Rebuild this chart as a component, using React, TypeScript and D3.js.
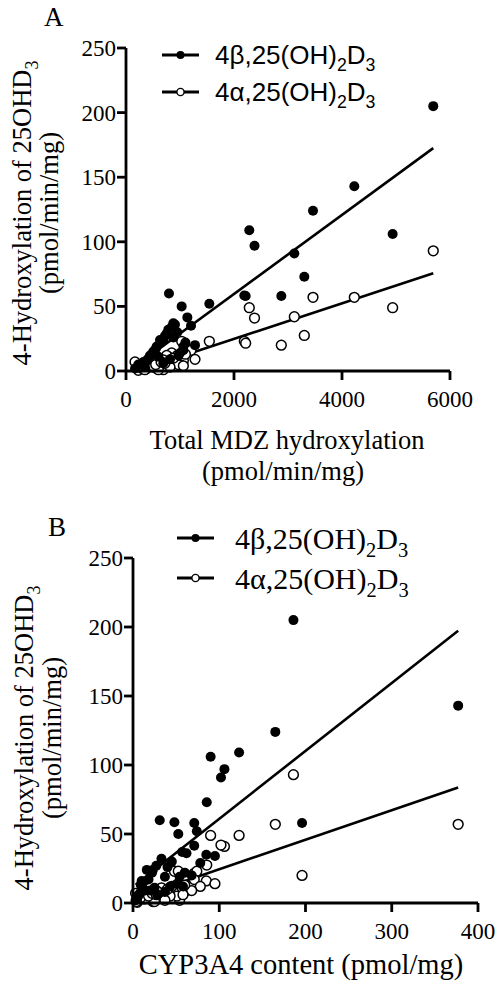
import React from "react";
import * as d3 from "d3";

// Per-liver values (same livers in both panels)
const mdzActivity = [5690, 4228, 4938, 3463, 2283, 2380, 3117, 3302, 2876, 2191, 2216, 796, 1543, 1031,
  1136, 876, 1204, 846, 907, 784, 753, 691, 630, 1278, 1062, 568, 506, 1000, 444, 969, 815, 383, 321, 691, 228, 167, 1062, 600,
  300, 400, 480, 550, 650, 720, 950, 1100, 880, 350];
const cyp3a4Content = [186, 377, 90, 165, 123, 106, 102, 85.5, 196, 48, 71, 31, 74, 52.5,
  71, 57, 85, 95, 62, 33, 78, 23, 16, 68, 37, 54, 12, 51, 58, 43, 20, 37, 8, 28, 5, 3, 10, 25,
  6, 14, 9, 18, 22, 27, 45, 60, 40, 4];
const betaRate = [205, 143, 106, 124, 109, 97, 91, 73, 58, 58.5, 58, 60, 52, 50,
  41.5, 37, 35, 34, 36, 32, 29, 24, 24, 20, 19, 19, 15, 14, 12, 12, 9, 8, 7, 6, 5, 2, 16, 11,
  5, 9, 13, 17, 22, 27, 30, 22, 26, 3];
const alphaRate = [93, 57, 49, 57, 49, 41, 42, 27.5, 20, 23, 21.5, 10, 23, 23,
  17, 11, 16, 14, 9, 11, 12, 1, 6, 9, 8, 2, 3, 5, 6, 5, 3, 2, 3, 8.5, 0.5, 7, 4, 1,
  2, 3, 4, 5, 7, 6, 12, 13, 10, 1];

// Regression fits [beta, alpha]
const fitSlopeA = [0.0306, 0.01374];
const fitInterceptA = [-1.6, -2.6];
const fitSlopeB = [0.492, 0.214];
const fitInterceptB = [11.8, 3];

const yTicks = [0, 50, 100, 150, 200, 250];
const xTicksA = [0, 2000, 4000, 6000];
const xTicksB = [0, 100, 200, 300, 400];

const SERIF = "'Liberation Serif', 'Times New Roman', serif";
const SANS = "'Liberation Sans', Arial, sans-serif";

type PanelProps = {
  xs: number[];
  xDomain: [number, number];
  xTicks: number[];
  xRange: [number, number];
  yRange: [number, number];
  slopes: number[];
  intercepts: number[];
  tickFont: number;
};

function Panel({ xs, xDomain, xTicks, xRange, yRange, slopes, intercepts, tickFont }: PanelProps) {
  const x = d3.scaleLinear().domain(xDomain).range(xRange);
  const y = d3.scaleLinear().domain([0, 250]).range(yRange);
  const ax = xRange[0];
  const ay = yRange[0];
  const tl = 9;
  const xmin = d3.min(xs) as number;
  const xmax = d3.max(xs) as number;
  const fitPath = (k: number) =>
    d3.line<number>().x((v) => x(v)).y((v) => y(slopes[k] * v + intercepts[k]))([xmin, xmax]) || "";
  return (
    <g>
      <path d={fitPath(0)} stroke="#000" strokeWidth={2.6} fill="none" />
      <path d={fitPath(1)} stroke="#000" strokeWidth={2.6} fill="none" />
      {xs.map((v, i) => (
        <circle key={"a" + i} cx={x(v)} cy={y(alphaRate[i])} r={4.9} fill="#fff" stroke="#000" strokeWidth={1.5} />
      ))}
      {xs.map((v, i) => (
        <circle key={"b" + i} cx={x(v)} cy={y(betaRate[i])} r={5} fill="#000" />
      ))}
      <line x1={ax} x2={ax} y1={y(250)} y2={ay} stroke="#000" strokeWidth={2.8} />
      <line x1={ax} x2={xRange[1]} y1={ay} y2={ay} stroke="#000" strokeWidth={2.8} />
      {yTicks.map((t) => (
        <g key={"yt" + t}>
          <line x1={ax - tl} x2={ax} y1={y(t)} y2={y(t)} stroke="#000" strokeWidth={2.8} />
          <text x={ax - tl - 1} y={y(t)} dy="0.35em" textAnchor="end" fontFamily={SERIF} fontSize={tickFont}>
            {t}
          </text>
        </g>
      ))}
      {xTicks.map((t) => (
        <g key={"xt" + t}>
          <line x1={x(t)} x2={x(t)} y1={ay} y2={ay + tl} stroke="#000" strokeWidth={2.8} />
          <text x={x(t)} y={ay + 36} textAnchor="middle" fontFamily={SERIF} fontSize={tickFont}>
            {t}
          </text>
        </g>
      ))}
    </g>
  );
}

function LegendLabel({ x, y, greek, font, size }: { x: number; y: number; greek: string; font: string; size: number }) {
  const sub = size * 0.68;
  return (
    <text x={x} y={y} dy="0.35em" fontFamily={font} fontSize={size}>
      {"4" + greek + ",25(OH)"}
      <tspan dy={size * 0.28} fontSize={sub}>2</tspan>
      <tspan dy={-size * 0.28}>D</tspan>
      <tspan dy={size * 0.28} fontSize={sub}>3</tspan>
    </text>
  );
}

function Legend({ x1, x2, y1, y2, tx, font, size }: { x1: number; x2: number; y1: number; y2: number; tx: number; font: string; size: number }) {
  const mx = (x1 + x2) / 2;
  return (
    <g>
      <line x1={x1} x2={x2} y1={y1} y2={y1} stroke="#000" strokeWidth={2.8} />
      <circle cx={mx} cy={y1} r={4} fill="#000" />
      <LegendLabel x={tx} y={y1} greek="β" font={font} size={size} />
      <line x1={x1} x2={x2} y1={y2} y2={y2} stroke="#000" strokeWidth={2.8} />
      <circle cx={mx} cy={y2} r={3.6} fill="#fff" stroke="#000" strokeWidth={1.4} />
      <LegendLabel x={tx} y={y2} greek="α" font={font} size={size} />
    </g>
  );
}

function YLabel({ cx1, cx2, cy, size }: { cx1: number; cx2: number; cy: number; size: number }) {
  return (
    <g fontFamily={SERIF} fontSize={size}>
      <text transform={`translate(${cx1},${cy}) rotate(-90)`} textAnchor="middle">
        4-Hydroxylation of 25OHD
        <tspan dy={size * 0.28} fontSize={size * 0.68}>3</tspan>
      </text>
      <text transform={`translate(${cx2},${cy}) rotate(-90)`} textAnchor="middle">
        (pmol/min/mg)
      </text>
    </g>
  );
}

export default function App() {
  return (
    <svg width={500} height={988} style={{ position: "absolute", left: 0, top: 0, display: "block", background: "#fff" }}>
      <rect width={500} height={988} fill="#fff" />
      {/* Panel A */}
      <text x={44} y={26} fontFamily={SERIF} fontSize={27}>A</text>
      <Panel
        xs={mdzActivity}
        xDomain={[0, 6000]}
        xTicks={xTicksA}
        xRange={[126, 450]}
        yRange={[371, 48]}
        slopes={fitSlopeA}
        intercepts={fitInterceptA}
        tickFont={23}
      />
      <Legend x1={162} x2={199} y1={55} y2={92} tx={215} font={SANS} size={26} />
      <YLabel cx1={31} cx2={58} cy={213} size={26.5} />
      <text x={287} y={449} textAnchor="middle" fontFamily={SERIF} fontSize={26.5}>Total MDZ hydroxylation</text>
      <text x={283} y={480} textAnchor="middle" fontFamily={SERIF} fontSize={26.5}>(pmol/min/mg)</text>

      {/* Panel B */}
      <text x={48} y={536} fontFamily={SERIF} fontSize={27}>B</text>
      <Panel
        xs={cyp3a4Content}
        xDomain={[0, 400]}
        xTicks={xTicksB}
        xRange={[133, 478]}
        yRange={[903, 558]}
        slopes={fitSlopeB}
        intercepts={fitInterceptB}
        tickFont={23}
      />
      <Legend x1={177} x2={214} y1={538} y2={578} tx={235} font={SERIF} size={30} />
      <YLabel cx1={33} cx2={61} cy={738} size={26.5} />
      <text x={301} y={974} textAnchor="middle" fontFamily={SERIF} fontSize={28.5}>CYP3A4 content (pmol/mg)</text>
    </svg>
  );
}
